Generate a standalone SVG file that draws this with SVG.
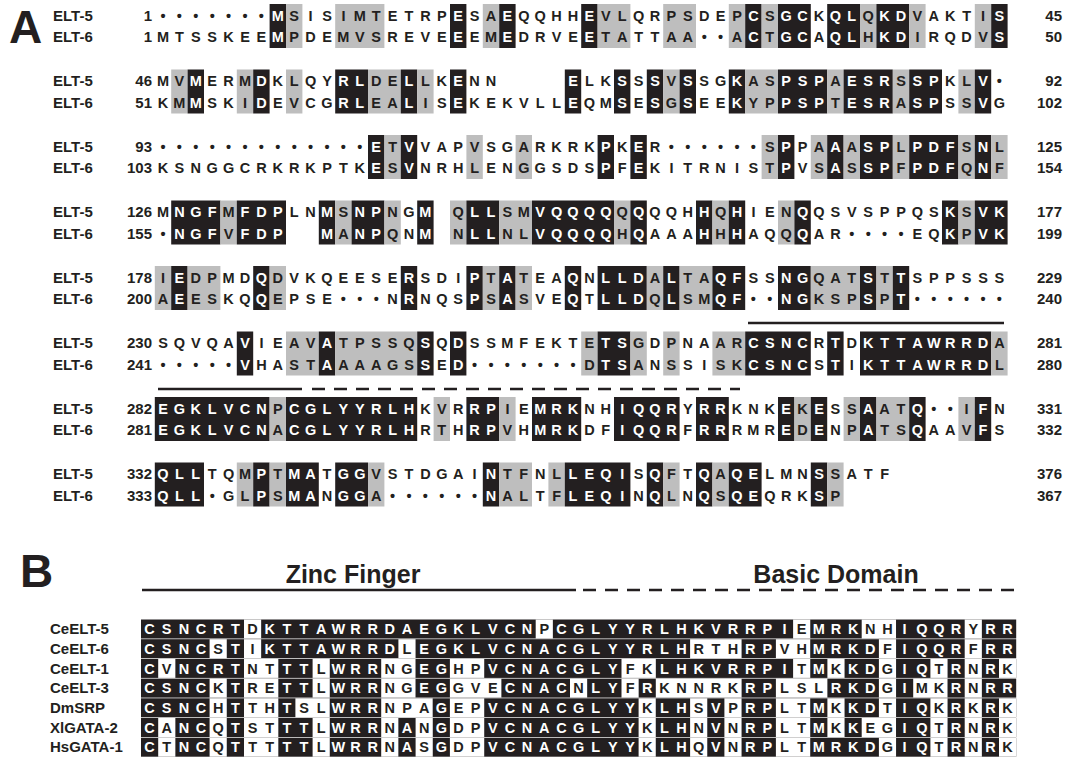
<svg xmlns="http://www.w3.org/2000/svg" width="1086" height="769" viewBox="0 0 1086 769">
<style>
text{font-family:"Liberation Sans",Arial,Helvetica,sans-serif;font-weight:bold;fill:#231f20}
.r{font-size:14.5px;text-anchor:middle}
.w{fill:#fff}
.rb{font-size:14.5px;text-anchor:middle;fill:#fff}
.d{fill:#231f20}
.lb{font-size:15px}
.ne{font-size:15px;text-anchor:end}
.k{fill:#231f20}
.g{fill:#bebebe}
.wb{fill:#fff}
.big{font-size:46px}
.hd{font-size:25px;text-anchor:middle}
.ln{stroke:#231f20;stroke-width:2.4;fill:none}
.dash{stroke:#231f20;stroke-width:2.4;fill:none;stroke-dasharray:13 9}
</style>
<rect width="1086" height="769" fill="#fff"/>
<g id="panelA">
<text class="big" x="9" y="43">A</text>
<g id="a-row1">
<rect class="k" x="269.6" y="4" width="16.4" height="44"/><rect class="g" x="286" y="4" width="16.4" height="44"/><rect class="g" x="335.2" y="4" width="49.2" height="44"/><rect class="k" x="450" y="4" width="16.4" height="44"/><rect class="g" x="482.8" y="4" width="16.4" height="44"/><rect class="k" x="499.2" y="4" width="16.4" height="44"/><rect class="k" x="581.2" y="4" width="16.4" height="44"/><rect class="g" x="597.6" y="4" width="32.8" height="44"/><rect class="g" x="663.2" y="4" width="32.8" height="44"/><rect class="g" x="728.8" y="4" width="16.4" height="44"/><rect class="k" x="745.2" y="4" width="16.4" height="44"/><rect class="g" x="761.6" y="4" width="16.4" height="44"/><rect class="k" x="778" y="4" width="32.8" height="44"/><rect class="k" x="827.2" y="4" width="32.8" height="44"/><rect class="g" x="860" y="4" width="16.4" height="44"/><rect class="k" x="876.4" y="4" width="32.8" height="44"/><rect class="g" x="909.2" y="4" width="16.4" height="44"/><rect class="g" x="974.8" y="4" width="16.4" height="44"/><rect class="k" x="991.2" y="4" width="16.4" height="44"/>
<text class="lb" x="53" y="20.5">ELT-5</text><text class="lb" x="53" y="42">ELT-6</text>
<text class="ne" x="152" y="20.5">1</text><text class="ne" x="152" y="42">1</text>
<text class="ne" x="1062" y="20.5">45</text><text class="ne" x="1062" y="42">50</text>
<text class="r" y="20.5" x="163 179.4 195.8 212.2 228.6 245 261.4 277.8 294.2 310.6 327 343.4 359.8 376.2 392.6 409 425.4 441.8 458.2 474.6 491 507.4 523.8 540.2 556.6 573 589.4 605.8 622.2 638.6 655 671.4 687.8 704.2 720.6 737 753.4 769.8 786.2 802.6 819 835.4 851.8 868.2 884.6 901 917.4 933.8 950.2 966.6 983 999.4">•••••••<tspan class="w">M</tspan>SISIMTETRP<tspan class="w">E</tspan>SA<tspan class="w">E</tspan>QQHH<tspan class="w">E</tspan>VLQRPSDEP<tspan class="w">C</tspan>S<tspan class="w">GC</tspan>K<tspan class="w">QL</tspan>Q<tspan class="w">KD</tspan>VAKTI<tspan class="w">S</tspan></text>
<text class="r" y="42" x="163 179.4 195.8 212.2 228.6 245 261.4 277.8 294.2 310.6 327 343.4 359.8 376.2 392.6 409 425.4 441.8 458.2 474.6 491 507.4 523.8 540.2 556.6 573 589.4 605.8 622.2 638.6 655 671.4 687.8 704.2 720.6 737 753.4 769.8 786.2 802.6 819 835.4 851.8 868.2 884.6 901 917.4 933.8 950.2 966.6 983 999.4">MTSSKEE<tspan class="w">M</tspan>PDEMVSREVE<tspan class="w">E</tspan>EM<tspan class="w">E</tspan>DRVE<tspan class="w">E</tspan>TATTAA••A<tspan class="w">C</tspan>T<tspan class="w">GC</tspan>A<tspan class="w">QL</tspan>H<tspan class="w">KD</tspan>IRQDV<tspan class="w">S</tspan></text>
</g>
<g id="a-row2">
<rect class="g" x="171.2" y="69.5" width="16.4" height="44"/><rect class="k" x="187.6" y="69.5" width="16.4" height="44"/><rect class="g" x="236.8" y="69.5" width="16.4" height="44"/><rect class="k" x="253.2" y="69.5" width="16.4" height="44"/><rect class="g" x="286" y="69.5" width="16.4" height="44"/><rect class="k" x="335.2" y="69.5" width="32.8" height="44"/><rect class="g" x="368" y="69.5" width="32.8" height="44"/><rect class="k" x="400.8" y="69.5" width="16.4" height="44"/><rect class="g" x="417.2" y="69.5" width="16.4" height="44"/><rect class="k" x="450" y="69.5" width="16.4" height="44"/><rect class="k" x="564.8" y="69.5" width="16.4" height="44"/><rect class="k" x="614" y="69.5" width="16.4" height="44"/><rect class="k" x="646.8" y="69.5" width="16.4" height="44"/><rect class="g" x="663.2" y="69.5" width="16.4" height="44"/><rect class="k" x="679.6" y="69.5" width="16.4" height="44"/><rect class="k" x="728.8" y="69.5" width="16.4" height="44"/><rect class="g" x="745.2" y="69.5" width="32.8" height="44"/><rect class="k" x="778" y="69.5" width="49.2" height="44"/><rect class="g" x="827.2" y="69.5" width="16.4" height="44"/><rect class="k" x="843.6" y="69.5" width="49.2" height="44"/><rect class="g" x="892.8" y="69.5" width="16.4" height="44"/><rect class="k" x="909.2" y="69.5" width="32.8" height="44"/><rect class="g" x="958.4" y="69.5" width="16.4" height="44"/><rect class="k" x="974.8" y="69.5" width="16.4" height="44"/>
<text class="lb" x="53" y="86">ELT-5</text><text class="lb" x="53" y="107.5">ELT-6</text>
<text class="ne" x="152" y="86">46</text><text class="ne" x="152" y="107.5">51</text>
<text class="ne" x="1062" y="86">92</text><text class="ne" x="1062" y="107.5">102</text>
<text class="r" y="86" x="163 179.4 195.8 212.2 228.6 245 261.4 277.8 294.2 310.6 327 343.4 359.8 376.2 392.6 409 425.4 441.8 458.2 474.6 491 507.4 523.8 540.2 556.6 573 589.4 605.8 622.2 638.6 655 671.4 687.8 704.2 720.6 737 753.4 769.8 786.2 802.6 819 835.4 851.8 868.2 884.6 901 917.4 933.8 950.2 966.6 983 999.4">MV<tspan class="w">M</tspan>ERM<tspan class="w">D</tspan>KLQY<tspan class="w">RL</tspan>DE<tspan class="w">L</tspan>LK<tspan class="w">E</tspan>NN&#160;&#160;&#160;&#160;<tspan class="w">E</tspan>LK<tspan class="w">S</tspan>S<tspan class="w">S</tspan>V<tspan class="w">S</tspan>SG<tspan class="w">K</tspan>AS<tspan class="w">PSP</tspan>A<tspan class="w">ESR</tspan>S<tspan class="w">SP</tspan>KL<tspan class="w">V</tspan>•</text>
<text class="r" y="107.5" x="163 179.4 195.8 212.2 228.6 245 261.4 277.8 294.2 310.6 327 343.4 359.8 376.2 392.6 409 425.4 441.8 458.2 474.6 491 507.4 523.8 540.2 556.6 573 589.4 605.8 622.2 638.6 655 671.4 687.8 704.2 720.6 737 753.4 769.8 786.2 802.6 819 835.4 851.8 868.2 884.6 901 917.4 933.8 950.2 966.6 983 999.4">KM<tspan class="w">M</tspan>SKI<tspan class="w">D</tspan>EVCG<tspan class="w">RL</tspan>EA<tspan class="w">L</tspan>IS<tspan class="w">E</tspan>KEKVLL<tspan class="w">E</tspan>QM<tspan class="w">S</tspan>E<tspan class="w">S</tspan>G<tspan class="w">S</tspan>EE<tspan class="w">K</tspan>YP<tspan class="w">PSP</tspan>T<tspan class="w">ESR</tspan>A<tspan class="w">SP</tspan>SS<tspan class="w">V</tspan>G</text>
</g>
<g id="a-row3">
<rect class="k" x="368" y="135" width="16.4" height="44"/><rect class="g" x="384.4" y="135" width="16.4" height="44"/><rect class="k" x="400.8" y="135" width="16.4" height="44"/><rect class="g" x="466.4" y="135" width="16.4" height="44"/><rect class="g" x="515.6" y="135" width="16.4" height="44"/><rect class="k" x="597.6" y="135" width="16.4" height="44"/><rect class="k" x="630.4" y="135" width="16.4" height="44"/><rect class="g" x="761.6" y="135" width="16.4" height="44"/><rect class="k" x="778" y="135" width="16.4" height="44"/><rect class="g" x="810.8" y="135" width="16.4" height="44"/><rect class="k" x="827.2" y="135" width="16.4" height="44"/><rect class="g" x="843.6" y="135" width="16.4" height="44"/><rect class="k" x="860" y="135" width="32.8" height="44"/><rect class="g" x="892.8" y="135" width="16.4" height="44"/><rect class="k" x="909.2" y="135" width="49.2" height="44"/><rect class="g" x="958.4" y="135" width="16.4" height="44"/><rect class="k" x="974.8" y="135" width="16.4" height="44"/><rect class="g" x="991.2" y="135" width="16.4" height="44"/>
<text class="lb" x="53" y="151.5">ELT-5</text><text class="lb" x="53" y="173">ELT-6</text>
<text class="ne" x="152" y="151.5">93</text><text class="ne" x="152" y="173">103</text>
<text class="ne" x="1062" y="151.5">125</text><text class="ne" x="1062" y="173">154</text>
<text class="r" y="151.5" x="163 179.4 195.8 212.2 228.6 245 261.4 277.8 294.2 310.6 327 343.4 359.8 376.2 392.6 409 425.4 441.8 458.2 474.6 491 507.4 523.8 540.2 556.6 573 589.4 605.8 622.2 638.6 655 671.4 687.8 704.2 720.6 737 753.4 769.8 786.2 802.6 819 835.4 851.8 868.2 884.6 901 917.4 933.8 950.2 966.6 983 999.4">•••••••••••••<tspan class="w">E</tspan>T<tspan class="w">V</tspan>VAPVSGARKRK<tspan class="w">P</tspan>K<tspan class="w">E</tspan>R••••••S<tspan class="w">P</tspan>PA<tspan class="w">A</tspan>A<tspan class="w">SP</tspan>L<tspan class="w">PDF</tspan>S<tspan class="w">N</tspan>L</text>
<text class="r" y="173" x="163 179.4 195.8 212.2 228.6 245 261.4 277.8 294.2 310.6 327 343.4 359.8 376.2 392.6 409 425.4 441.8 458.2 474.6 491 507.4 523.8 540.2 556.6 573 589.4 605.8 622.2 638.6 655 671.4 687.8 704.2 720.6 737 753.4 769.8 786.2 802.6 819 835.4 851.8 868.2 884.6 901 917.4 933.8 950.2 966.6 983 999.4">KSNGGCRKRKPTK<tspan class="w">E</tspan>S<tspan class="w">V</tspan>NRHLENGGSDS<tspan class="w">P</tspan>F<tspan class="w">E</tspan>KITRNIST<tspan class="w">P</tspan>VS<tspan class="w">A</tspan>S<tspan class="w">SP</tspan>F<tspan class="w">PDF</tspan>Q<tspan class="w">N</tspan>F</text>
</g>
<g id="a-row4">
<rect class="k" x="171.2" y="200.5" width="49.2" height="44"/><rect class="g" x="220.4" y="200.5" width="16.4" height="44"/><rect class="k" x="236.8" y="200.5" width="49.2" height="44"/><rect class="k" x="318.8" y="200.5" width="16.4" height="44"/><rect class="g" x="335.2" y="200.5" width="16.4" height="44"/><rect class="k" x="351.6" y="200.5" width="32.8" height="44"/><rect class="g" x="384.4" y="200.5" width="16.4" height="44"/><rect class="k" x="417.2" y="200.5" width="16.4" height="44"/><rect class="g" x="450" y="200.5" width="16.4" height="44"/><rect class="k" x="466.4" y="200.5" width="32.8" height="44"/><rect class="g" x="499.2" y="200.5" width="32.8" height="44"/><rect class="k" x="532" y="200.5" width="82" height="44"/><rect class="g" x="614" y="200.5" width="16.4" height="44"/><rect class="k" x="630.4" y="200.5" width="16.4" height="44"/><rect class="k" x="696" y="200.5" width="16.4" height="44"/><rect class="g" x="712.4" y="200.5" width="16.4" height="44"/><rect class="k" x="728.8" y="200.5" width="16.4" height="44"/><rect class="g" x="778" y="200.5" width="16.4" height="44"/><rect class="k" x="794.4" y="200.5" width="16.4" height="44"/><rect class="k" x="942" y="200.5" width="16.4" height="44"/><rect class="g" x="958.4" y="200.5" width="16.4" height="44"/><rect class="k" x="974.8" y="200.5" width="32.8" height="44"/>
<text class="lb" x="53" y="217">ELT-5</text><text class="lb" x="53" y="238.5">ELT-6</text>
<text class="ne" x="152" y="217">126</text><text class="ne" x="152" y="238.5">155</text>
<text class="ne" x="1062" y="217">177</text><text class="ne" x="1062" y="238.5">199</text>
<text class="r" y="217" x="163 179.4 195.8 212.2 228.6 245 261.4 277.8 294.2 310.6 327 343.4 359.8 376.2 392.6 409 425.4 441.8 458.2 474.6 491 507.4 523.8 540.2 556.6 573 589.4 605.8 622.2 638.6 655 671.4 687.8 704.2 720.6 737 753.4 769.8 786.2 802.6 819 835.4 851.8 868.2 884.6 901 917.4 933.8 950.2 966.6 983 999.4">M<tspan class="w">NGF</tspan>M<tspan class="w">FDP</tspan>LN<tspan class="w">M</tspan>S<tspan class="w">NP</tspan>NG<tspan class="w">M</tspan>&#160;Q<tspan class="w">LL</tspan>SM<tspan class="w">VQQQQ</tspan>Q<tspan class="w">Q</tspan>QQH<tspan class="w">H</tspan>Q<tspan class="w">H</tspan>IEN<tspan class="w">Q</tspan>QSVSPPQS<tspan class="w">K</tspan>S<tspan class="w">VK</tspan></text>
<text class="r" y="238.5" x="163 179.4 195.8 212.2 228.6 245 261.4 277.8 294.2 310.6 327 343.4 359.8 376.2 392.6 409 425.4 441.8 458.2 474.6 491 507.4 523.8 540.2 556.6 573 589.4 605.8 622.2 638.6 655 671.4 687.8 704.2 720.6 737 753.4 769.8 786.2 802.6 819 835.4 851.8 868.2 884.6 901 917.4 933.8 950.2 966.6 983 999.4">•<tspan class="w">NGF</tspan>V<tspan class="w">FDP</tspan>&#160;&#160;<tspan class="w">M</tspan>A<tspan class="w">NP</tspan>QN<tspan class="w">M</tspan>&#160;N<tspan class="w">LL</tspan>NL<tspan class="w">VQQQQ</tspan>H<tspan class="w">Q</tspan>AAA<tspan class="w">H</tspan>H<tspan class="w">H</tspan>AQQ<tspan class="w">Q</tspan>AR••••EQ<tspan class="w">K</tspan>P<tspan class="w">VK</tspan></text>
</g>
<g id="a-row5">
<rect class="g" x="154.8" y="266" width="16.4" height="44"/><rect class="k" x="171.2" y="266" width="16.4" height="44"/><rect class="g" x="187.6" y="266" width="32.8" height="44"/><rect class="k" x="253.2" y="266" width="16.4" height="44"/><rect class="g" x="269.6" y="266" width="16.4" height="44"/><rect class="k" x="400.8" y="266" width="16.4" height="44"/><rect class="k" x="466.4" y="266" width="16.4" height="44"/><rect class="g" x="482.8" y="266" width="16.4" height="44"/><rect class="k" x="499.2" y="266" width="16.4" height="44"/><rect class="g" x="515.6" y="266" width="16.4" height="44"/><rect class="k" x="564.8" y="266" width="16.4" height="44"/><rect class="k" x="597.6" y="266" width="49.2" height="44"/><rect class="g" x="646.8" y="266" width="16.4" height="44"/><rect class="k" x="663.2" y="266" width="16.4" height="44"/><rect class="g" x="679.6" y="266" width="32.8" height="44"/><rect class="k" x="712.4" y="266" width="32.8" height="44"/><rect class="k" x="778" y="266" width="32.8" height="44"/><rect class="g" x="810.8" y="266" width="49.2" height="44"/><rect class="k" x="860" y="266" width="16.4" height="44"/><rect class="g" x="876.4" y="266" width="16.4" height="44"/><rect class="k" x="892.8" y="266" width="16.4" height="44"/>
<text class="lb" x="53" y="282.5">ELT-5</text><text class="lb" x="53" y="304">ELT-6</text>
<text class="ne" x="152" y="282.5">178</text><text class="ne" x="152" y="304">200</text>
<text class="ne" x="1062" y="282.5">229</text><text class="ne" x="1062" y="304">240</text>
<text class="r" y="282.5" x="163 179.4 195.8 212.2 228.6 245 261.4 277.8 294.2 310.6 327 343.4 359.8 376.2 392.6 409 425.4 441.8 458.2 474.6 491 507.4 523.8 540.2 556.6 573 589.4 605.8 622.2 638.6 655 671.4 687.8 704.2 720.6 737 753.4 769.8 786.2 802.6 819 835.4 851.8 868.2 884.6 901 917.4 933.8 950.2 966.6 983 999.4">I<tspan class="w">E</tspan>DPMD<tspan class="w">Q</tspan>DVKQEESE<tspan class="w">R</tspan>SDI<tspan class="w">P</tspan>T<tspan class="w">A</tspan>TEA<tspan class="w">Q</tspan>N<tspan class="w">LLD</tspan>A<tspan class="w">L</tspan>TA<tspan class="w">QF</tspan>SS<tspan class="w">NG</tspan>QAT<tspan class="w">S</tspan>T<tspan class="w">T</tspan>SPPSSS</text>
<text class="r" y="304" x="163 179.4 195.8 212.2 228.6 245 261.4 277.8 294.2 310.6 327 343.4 359.8 376.2 392.6 409 425.4 441.8 458.2 474.6 491 507.4 523.8 540.2 556.6 573 589.4 605.8 622.2 638.6 655 671.4 687.8 704.2 720.6 737 753.4 769.8 786.2 802.6 819 835.4 851.8 868.2 884.6 901 917.4 933.8 950.2 966.6 983 999.4">A<tspan class="w">E</tspan>ESKQ<tspan class="w">Q</tspan>EPSE•••N<tspan class="w">R</tspan>NQS<tspan class="w">P</tspan>S<tspan class="w">A</tspan>SVE<tspan class="w">Q</tspan>T<tspan class="w">LLD</tspan>Q<tspan class="w">L</tspan>SM<tspan class="w">QF</tspan>••<tspan class="w">NG</tspan>KSP<tspan class="w">S</tspan>P<tspan class="w">T</tspan>••••••</text>
</g>
<g id="a-row6">
<rect class="k" x="236.8" y="331.5" width="16.4" height="44"/><rect class="g" x="286" y="331.5" width="32.8" height="44"/><rect class="k" x="318.8" y="331.5" width="16.4" height="44"/><rect class="g" x="335.2" y="331.5" width="82" height="44"/><rect class="k" x="417.2" y="331.5" width="16.4" height="44"/><rect class="k" x="450" y="331.5" width="16.4" height="44"/><rect class="g" x="581.2" y="331.5" width="16.4" height="44"/><rect class="k" x="597.6" y="331.5" width="32.8" height="44"/><rect class="g" x="630.4" y="331.5" width="16.4" height="44"/><rect class="g" x="663.2" y="331.5" width="16.4" height="44"/><rect class="g" x="712.4" y="331.5" width="32.8" height="44"/><rect class="k" x="745.2" y="331.5" width="65.6" height="44"/><rect class="k" x="827.2" y="331.5" width="16.4" height="44"/><rect class="k" x="860" y="331.5" width="131.2" height="44"/><rect class="g" x="991.2" y="331.5" width="16.4" height="44"/>
<text class="lb" x="53" y="348">ELT-5</text><text class="lb" x="53" y="369.5">ELT-6</text>
<text class="ne" x="152" y="348">230</text><text class="ne" x="152" y="369.5">241</text>
<text class="ne" x="1062" y="348">281</text><text class="ne" x="1062" y="369.5">280</text>
<text class="r" y="348" x="163 179.4 195.8 212.2 228.6 245 261.4 277.8 294.2 310.6 327 343.4 359.8 376.2 392.6 409 425.4 441.8 458.2 474.6 491 507.4 523.8 540.2 556.6 573 589.4 605.8 622.2 638.6 655 671.4 687.8 704.2 720.6 737 753.4 769.8 786.2 802.6 819 835.4 851.8 868.2 884.6 901 917.4 933.8 950.2 966.6 983 999.4">SQVQA<tspan class="w">V</tspan>IEAV<tspan class="w">A</tspan>TPSSQ<tspan class="w">S</tspan>Q<tspan class="w">D</tspan>SSMFEKTE<tspan class="w">TS</tspan>GDPNAAR<tspan class="w">CSNC</tspan>R<tspan class="w">T</tspan>D<tspan class="w">KTTAWRRD</tspan>A</text>
<text class="r" y="369.5" x="163 179.4 195.8 212.2 228.6 245 261.4 277.8 294.2 310.6 327 343.4 359.8 376.2 392.6 409 425.4 441.8 458.2 474.6 491 507.4 523.8 540.2 556.6 573 589.4 605.8 622.2 638.6 655 671.4 687.8 704.2 720.6 737 753.4 769.8 786.2 802.6 819 835.4 851.8 868.2 884.6 901 917.4 933.8 950.2 966.6 983 999.4">•••••<tspan class="w">V</tspan>HAST<tspan class="w">A</tspan>AAAGS<tspan class="w">S</tspan>E<tspan class="w">D</tspan>•••••••D<tspan class="w">TS</tspan>ANSSISK<tspan class="w">CSNC</tspan>S<tspan class="w">T</tspan>I<tspan class="w">KTTAWRRD</tspan>L</text>
</g>
<g id="a-row7">
<rect class="k" x="154.8" y="397" width="114.8" height="44"/><rect class="g" x="269.6" y="397" width="16.4" height="44"/><rect class="k" x="286" y="397" width="131.2" height="44"/><rect class="g" x="433.6" y="397" width="16.4" height="44"/><rect class="k" x="466.4" y="397" width="32.8" height="44"/><rect class="g" x="499.2" y="397" width="16.4" height="44"/><rect class="k" x="532" y="397" width="49.2" height="44"/><rect class="k" x="614" y="397" width="65.6" height="44"/><rect class="k" x="696" y="397" width="32.8" height="44"/><rect class="k" x="778" y="397" width="16.4" height="44"/><rect class="g" x="794.4" y="397" width="16.4" height="44"/><rect class="k" x="810.8" y="397" width="16.4" height="44"/><rect class="g" x="843.6" y="397" width="16.4" height="44"/><rect class="k" x="860" y="397" width="16.4" height="44"/><rect class="g" x="876.4" y="397" width="32.8" height="44"/><rect class="k" x="909.2" y="397" width="16.4" height="44"/><rect class="g" x="958.4" y="397" width="16.4" height="44"/><rect class="k" x="974.8" y="397" width="16.4" height="44"/>
<text class="lb" x="53" y="413.5">ELT-5</text><text class="lb" x="53" y="435">ELT-6</text>
<text class="ne" x="152" y="413.5">282</text><text class="ne" x="152" y="435">281</text>
<text class="ne" x="1062" y="413.5">331</text><text class="ne" x="1062" y="435">332</text>
<text class="r" y="413.5" x="163 179.4 195.8 212.2 228.6 245 261.4 277.8 294.2 310.6 327 343.4 359.8 376.2 392.6 409 425.4 441.8 458.2 474.6 491 507.4 523.8 540.2 556.6 573 589.4 605.8 622.2 638.6 655 671.4 687.8 704.2 720.6 737 753.4 769.8 786.2 802.6 819 835.4 851.8 868.2 884.6 901 917.4 933.8 950.2 966.6 983 999.4"><tspan class="w">EGKLVCN</tspan>P<tspan class="w">CGLYYRLH</tspan>KVR<tspan class="w">RP</tspan>IE<tspan class="w">MRK</tspan>NH<tspan class="w">IQQR</tspan>Y<tspan class="w">RR</tspan>KNK<tspan class="w">E</tspan>K<tspan class="w">E</tspan>SS<tspan class="w">A</tspan>AT<tspan class="w">Q</tspan>••I<tspan class="w">F</tspan>N</text>
<text class="r" y="435" x="163 179.4 195.8 212.2 228.6 245 261.4 277.8 294.2 310.6 327 343.4 359.8 376.2 392.6 409 425.4 441.8 458.2 474.6 491 507.4 523.8 540.2 556.6 573 589.4 605.8 622.2 638.6 655 671.4 687.8 704.2 720.6 737 753.4 769.8 786.2 802.6 819 835.4 851.8 868.2 884.6 901 917.4 933.8 950.2 966.6 983 999.4"><tspan class="w">EGKLVCN</tspan>A<tspan class="w">CGLYYRLH</tspan>RTH<tspan class="w">RP</tspan>VH<tspan class="w">MRK</tspan>DF<tspan class="w">IQQR</tspan>F<tspan class="w">RR</tspan>RMR<tspan class="w">E</tspan>D<tspan class="w">E</tspan>NP<tspan class="w">A</tspan>TS<tspan class="w">Q</tspan>AAV<tspan class="w">F</tspan>S</text>
</g>
<g id="a-row8">
<rect class="k" x="154.8" y="462.5" width="49.2" height="44"/><rect class="g" x="236.8" y="462.5" width="16.4" height="44"/><rect class="k" x="253.2" y="462.5" width="16.4" height="44"/><rect class="g" x="269.6" y="462.5" width="16.4" height="44"/><rect class="k" x="286" y="462.5" width="32.8" height="44"/><rect class="k" x="335.2" y="462.5" width="32.8" height="44"/><rect class="g" x="368" y="462.5" width="16.4" height="44"/><rect class="k" x="482.8" y="462.5" width="16.4" height="44"/><rect class="g" x="499.2" y="462.5" width="32.8" height="44"/><rect class="g" x="548.4" y="462.5" width="16.4" height="44"/><rect class="k" x="564.8" y="462.5" width="65.6" height="44"/><rect class="k" x="646.8" y="462.5" width="16.4" height="44"/><rect class="g" x="663.2" y="462.5" width="16.4" height="44"/><rect class="k" x="696" y="462.5" width="16.4" height="44"/><rect class="g" x="712.4" y="462.5" width="16.4" height="44"/><rect class="k" x="728.8" y="462.5" width="32.8" height="44"/><rect class="k" x="810.8" y="462.5" width="16.4" height="44"/><rect class="g" x="827.2" y="462.5" width="16.4" height="44"/>
<text class="lb" x="53" y="479">ELT-5</text><text class="lb" x="53" y="500.5">ELT-6</text>
<text class="ne" x="152" y="479">332</text><text class="ne" x="152" y="500.5">333</text>
<text class="ne" x="1062" y="479">376</text><text class="ne" x="1062" y="500.5">367</text>
<text class="r" y="479" x="163 179.4 195.8 212.2 228.6 245 261.4 277.8 294.2 310.6 327 343.4 359.8 376.2 392.6 409 425.4 441.8 458.2 474.6 491 507.4 523.8 540.2 556.6 573 589.4 605.8 622.2 638.6 655 671.4 687.8 704.2 720.6 737 753.4 769.8 786.2 802.6 819 835.4 851.8 868.2 884.6 901"><tspan class="w">QLL</tspan>TQM<tspan class="w">P</tspan>T<tspan class="w">MA</tspan>T<tspan class="w">GG</tspan>VSTDGAI<tspan class="w">N</tspan>TFNL<tspan class="w">LEQI</tspan>S<tspan class="w">Q</tspan>FT<tspan class="w">Q</tspan>A<tspan class="w">QE</tspan>LMN<tspan class="w">S</tspan>SATF</text>
<text class="r" y="500.5" x="163 179.4 195.8 212.2 228.6 245 261.4 277.8 294.2 310.6 327 343.4 359.8 376.2 392.6 409 425.4 441.8 458.2 474.6 491 507.4 523.8 540.2 556.6 573 589.4 605.8 622.2 638.6 655 671.4 687.8 704.2 720.6 737 753.4 769.8 786.2 802.6 819 835.4"><tspan class="w">QLL</tspan>•GL<tspan class="w">P</tspan>S<tspan class="w">MA</tspan>N<tspan class="w">GG</tspan>A••••••<tspan class="w">N</tspan>ALTF<tspan class="w">LEQI</tspan>N<tspan class="w">Q</tspan>LN<tspan class="w">Q</tspan>S<tspan class="w">QE</tspan>QRK<tspan class="w">S</tspan>P</text>
</g>
<g id="a-domain-lines">
<line class="ln" x1="748" y1="323" x2="1004" y2="323"/>
<line class="ln" x1="158" y1="389" x2="302" y2="389"/>
<line class="dash" x1="312" y1="389" x2="740" y2="389"/>
</g>
</g>
<g id="panelB">
<text class="big" x="20" y="587">B</text>
<text class="hd" x="353" y="583">Zinc Finger</text>
<text class="hd" x="836" y="583">Basic Domain</text>
<g id="b-domain-lines">
<line class="ln" x1="142" y1="590" x2="576" y2="590"/>
<line class="dash" x1="583" y1="590" x2="1016" y2="590"/>
</g>
<g id="b-CeELT-5">
<rect class="k" x="141" y="619.5" width="875.2" height="19"/>
<rect class="wb" x="244" y="619.5" width="17.16" height="19"/><rect class="wb" x="535.7" y="619.5" width="17.16" height="19"/><rect class="wb" x="793.1" y="619.5" width="17.16" height="19"/><rect class="wb" x="861.7" y="619.5" width="34.32" height="19"/><rect class="wb" x="964.7" y="619.5" width="17.16" height="19"/>
<text class="lb" x="50" y="634.2">CeELT-5</text>
<text class="rb" y="634.2" x="149.6 166.7 183.9 201.1 218.2 235.4 252.6 269.7 286.9 304 321.2 338.4 355.5 372.7 389.8 407 424.2 441.3 458.5 475.6 492.8 510 527.1 544.3 561.4 578.6 595.8 612.9 630.1 647.2 664.4 681.6 698.7 715.9 733 750.2 767.4 784.5 801.7 818.8 836 853.2 870.3 887.5 904.6 921.8 939 956.1 973.3 990.4 1007.6">CSNCRT<tspan class="d">D</tspan>KTTAWRRDAEGKLVCN<tspan class="d">P</tspan>CGLYYRLHKVRRPI<tspan class="d">E</tspan>MRK<tspan class="d">NH</tspan>IQQR<tspan class="d">Y</tspan>RR</text>
</g>
<g id="b-CeELT-6">
<rect class="k" x="141" y="639.2" width="875.2" height="19"/>
<rect class="wb" x="209.6" y="639.2" width="17.16" height="19"/><rect class="wb" x="244" y="639.2" width="17.16" height="19"/><rect class="wb" x="398.4" y="639.2" width="17.16" height="19"/><rect class="wb" x="690.1" y="639.2" width="51.48" height="19"/><rect class="wb" x="775.9" y="639.2" width="34.32" height="19"/><rect class="wb" x="878.9" y="639.2" width="17.16" height="19"/><rect class="wb" x="964.7" y="639.2" width="17.16" height="19"/>
<text class="lb" x="50" y="653.9">CeELT-6</text>
<text class="rb" y="653.9" x="149.6 166.7 183.9 201.1 218.2 235.4 252.6 269.7 286.9 304 321.2 338.4 355.5 372.7 389.8 407 424.2 441.3 458.5 475.6 492.8 510 527.1 544.3 561.4 578.6 595.8 612.9 630.1 647.2 664.4 681.6 698.7 715.9 733 750.2 767.4 784.5 801.7 818.8 836 853.2 870.3 887.5 904.6 921.8 939 956.1 973.3 990.4 1007.6">CSNC<tspan class="d">S</tspan>T<tspan class="d">I</tspan>KTTAWRRD<tspan class="d">L</tspan>EGKLVCNACGLYYRLH<tspan class="d">RTH</tspan>RP<tspan class="d">VH</tspan>MRKD<tspan class="d">F</tspan>IQQR<tspan class="d">F</tspan>RR</text>
</g>
<g id="b-CeELT-1">
<rect class="k" x="141" y="658.9" width="875.2" height="19"/>
<rect class="wb" x="158.2" y="658.9" width="17.16" height="19"/><rect class="wb" x="244" y="658.9" width="34.32" height="19"/><rect class="wb" x="312.6" y="658.9" width="17.16" height="19"/><rect class="wb" x="381.2" y="658.9" width="34.32" height="19"/><rect class="wb" x="449.9" y="658.9" width="34.32" height="19"/><rect class="wb" x="621.5" y="658.9" width="34.32" height="19"/><rect class="wb" x="793.1" y="658.9" width="17.16" height="19"/><rect class="wb" x="827.4" y="658.9" width="17.16" height="19"/><rect class="wb" x="878.9" y="658.9" width="17.16" height="19"/><rect class="wb" x="930.4" y="658.9" width="17.16" height="19"/><rect class="wb" x="964.7" y="658.9" width="17.16" height="19"/><rect class="wb" x="999" y="658.9" width="17.16" height="19"/>
<text class="lb" x="50" y="673.6">CeELT-1</text>
<text class="rb" y="673.6" x="149.6 166.7 183.9 201.1 218.2 235.4 252.6 269.7 286.9 304 321.2 338.4 355.5 372.7 389.8 407 424.2 441.3 458.5 475.6 492.8 510 527.1 544.3 561.4 578.6 595.8 612.9 630.1 647.2 664.4 681.6 698.7 715.9 733 750.2 767.4 784.5 801.7 818.8 836 853.2 870.3 887.5 904.6 921.8 939 956.1 973.3 990.4 1007.6">C<tspan class="d">V</tspan>NCRT<tspan class="d">NT</tspan>TT<tspan class="d">L</tspan>WRR<tspan class="d">NG</tspan>EG<tspan class="d">HP</tspan>VCNACGLY<tspan class="d">FK</tspan>LHKVRRPI<tspan class="d">T</tspan>M<tspan class="d">K</tspan>KD<tspan class="d">G</tspan>IQ<tspan class="d">T</tspan>R<tspan class="d">N</tspan>R<tspan class="d">K</tspan></text>
</g>
<g id="b-CeELT-3">
<rect class="k" x="141" y="678.6" width="875.2" height="19"/>
<rect class="wb" x="209.6" y="678.6" width="17.16" height="19"/><rect class="wb" x="244" y="678.6" width="34.32" height="19"/><rect class="wb" x="312.6" y="678.6" width="17.16" height="19"/><rect class="wb" x="381.2" y="678.6" width="34.32" height="19"/><rect class="wb" x="449.9" y="678.6" width="51.48" height="19"/><rect class="wb" x="570" y="678.6" width="17.16" height="19"/><rect class="wb" x="621.5" y="678.6" width="17.16" height="19"/><rect class="wb" x="655.8" y="678.6" width="85.8" height="19"/><rect class="wb" x="775.9" y="678.6" width="51.48" height="19"/><rect class="wb" x="878.9" y="678.6" width="17.16" height="19"/><rect class="wb" x="913.2" y="678.6" width="34.32" height="19"/><rect class="wb" x="964.7" y="678.6" width="17.16" height="19"/>
<text class="lb" x="50" y="693.3">CeELT-3</text>
<text class="rb" y="693.3" x="149.6 166.7 183.9 201.1 218.2 235.4 252.6 269.7 286.9 304 321.2 338.4 355.5 372.7 389.8 407 424.2 441.3 458.5 475.6 492.8 510 527.1 544.3 561.4 578.6 595.8 612.9 630.1 647.2 664.4 681.6 698.7 715.9 733 750.2 767.4 784.5 801.7 818.8 836 853.2 870.3 887.5 904.6 921.8 939 956.1 973.3 990.4 1007.6">CSNC<tspan class="d">K</tspan>T<tspan class="d">RE</tspan>TT<tspan class="d">L</tspan>WRR<tspan class="d">NG</tspan>EG<tspan class="d">GVE</tspan>CNAC<tspan class="d">N</tspan>LY<tspan class="d">F</tspan>R<tspan class="d">KNNRK</tspan>RP<tspan class="d">LSL</tspan>RKD<tspan class="d">G</tspan>I<tspan class="d">MK</tspan>R<tspan class="d">N</tspan>RR</text>
</g>
<g id="b-DmSRP">
<rect class="k" x="141" y="698.3" width="875.2" height="19"/>
<rect class="wb" x="209.6" y="698.3" width="17.16" height="19"/><rect class="wb" x="244" y="698.3" width="34.32" height="19"/><rect class="wb" x="295.4" y="698.3" width="34.32" height="19"/><rect class="wb" x="381.2" y="698.3" width="51.48" height="19"/><rect class="wb" x="449.9" y="698.3" width="34.32" height="19"/><rect class="wb" x="638.6" y="698.3" width="17.16" height="19"/><rect class="wb" x="690.1" y="698.3" width="17.16" height="19"/><rect class="wb" x="724.4" y="698.3" width="17.16" height="19"/><rect class="wb" x="775.9" y="698.3" width="34.32" height="19"/><rect class="wb" x="827.4" y="698.3" width="17.16" height="19"/><rect class="wb" x="878.9" y="698.3" width="17.16" height="19"/><rect class="wb" x="930.4" y="698.3" width="17.16" height="19"/><rect class="wb" x="964.7" y="698.3" width="17.16" height="19"/><rect class="wb" x="999" y="698.3" width="17.16" height="19"/>
<text class="lb" x="50" y="713">DmSRP</text>
<text class="rb" y="713" x="149.6 166.7 183.9 201.1 218.2 235.4 252.6 269.7 286.9 304 321.2 338.4 355.5 372.7 389.8 407 424.2 441.3 458.5 475.6 492.8 510 527.1 544.3 561.4 578.6 595.8 612.9 630.1 647.2 664.4 681.6 698.7 715.9 733 750.2 767.4 784.5 801.7 818.8 836 853.2 870.3 887.5 904.6 921.8 939 956.1 973.3 990.4 1007.6">CSNC<tspan class="d">H</tspan>T<tspan class="d">TH</tspan>T<tspan class="d">SL</tspan>WRR<tspan class="d">NPA</tspan>G<tspan class="d">EP</tspan>VCNACGLYY<tspan class="d">K</tspan>LH<tspan class="d">S</tspan>V<tspan class="d">P</tspan>RP<tspan class="d">LT</tspan>M<tspan class="d">K</tspan>KD<tspan class="d">T</tspan>IQ<tspan class="d">K</tspan>R<tspan class="d">K</tspan>R<tspan class="d">K</tspan></text>
</g>
<g id="b-XlGATA-2">
<rect class="k" x="141" y="718" width="875.2" height="19"/>
<rect class="wb" x="158.2" y="718" width="17.16" height="19"/><rect class="wb" x="209.6" y="718" width="17.16" height="19"/><rect class="wb" x="244" y="718" width="34.32" height="19"/><rect class="wb" x="312.6" y="718" width="17.16" height="19"/><rect class="wb" x="381.2" y="718" width="17.16" height="19"/><rect class="wb" x="415.6" y="718" width="17.16" height="19"/><rect class="wb" x="449.9" y="718" width="34.32" height="19"/><rect class="wb" x="638.6" y="718" width="17.16" height="19"/><rect class="wb" x="690.1" y="718" width="17.16" height="19"/><rect class="wb" x="724.4" y="718" width="17.16" height="19"/><rect class="wb" x="775.9" y="718" width="34.32" height="19"/><rect class="wb" x="827.4" y="718" width="17.16" height="19"/><rect class="wb" x="861.7" y="718" width="34.32" height="19"/><rect class="wb" x="930.4" y="718" width="17.16" height="19"/><rect class="wb" x="964.7" y="718" width="17.16" height="19"/><rect class="wb" x="999" y="718" width="17.16" height="19"/>
<text class="lb" x="50" y="732.7">XlGATA-2</text>
<text class="rb" y="732.7" x="149.6 166.7 183.9 201.1 218.2 235.4 252.6 269.7 286.9 304 321.2 338.4 355.5 372.7 389.8 407 424.2 441.3 458.5 475.6 492.8 510 527.1 544.3 561.4 578.6 595.8 612.9 630.1 647.2 664.4 681.6 698.7 715.9 733 750.2 767.4 784.5 801.7 818.8 836 853.2 870.3 887.5 904.6 921.8 939 956.1 973.3 990.4 1007.6">C<tspan class="d">A</tspan>NC<tspan class="d">Q</tspan>T<tspan class="d">ST</tspan>TT<tspan class="d">L</tspan>WRR<tspan class="d">N</tspan>A<tspan class="d">N</tspan>G<tspan class="d">DP</tspan>VCNACGLYY<tspan class="d">K</tspan>LH<tspan class="d">N</tspan>V<tspan class="d">N</tspan>RP<tspan class="d">LT</tspan>M<tspan class="d">K</tspan>K<tspan class="d">EG</tspan>IQ<tspan class="d">T</tspan>R<tspan class="d">N</tspan>R<tspan class="d">K</tspan></text>
</g>
<g id="b-HsGATA-1">
<rect class="k" x="141" y="737.7" width="875.2" height="19"/>
<rect class="wb" x="158.2" y="737.7" width="17.16" height="19"/><rect class="wb" x="209.6" y="737.7" width="17.16" height="19"/><rect class="wb" x="244" y="737.7" width="34.32" height="19"/><rect class="wb" x="312.6" y="737.7" width="17.16" height="19"/><rect class="wb" x="381.2" y="737.7" width="17.16" height="19"/><rect class="wb" x="415.6" y="737.7" width="17.16" height="19"/><rect class="wb" x="449.9" y="737.7" width="34.32" height="19"/><rect class="wb" x="638.6" y="737.7" width="17.16" height="19"/><rect class="wb" x="690.1" y="737.7" width="17.16" height="19"/><rect class="wb" x="724.4" y="737.7" width="17.16" height="19"/><rect class="wb" x="775.9" y="737.7" width="34.32" height="19"/><rect class="wb" x="878.9" y="737.7" width="17.16" height="19"/><rect class="wb" x="930.4" y="737.7" width="17.16" height="19"/><rect class="wb" x="964.7" y="737.7" width="17.16" height="19"/><rect class="wb" x="999" y="737.7" width="17.16" height="19"/>
<text class="lb" x="50" y="752.4">HsGATA-1</text>
<text class="rb" y="752.4" x="149.6 166.7 183.9 201.1 218.2 235.4 252.6 269.7 286.9 304 321.2 338.4 355.5 372.7 389.8 407 424.2 441.3 458.5 475.6 492.8 510 527.1 544.3 561.4 578.6 595.8 612.9 630.1 647.2 664.4 681.6 698.7 715.9 733 750.2 767.4 784.5 801.7 818.8 836 853.2 870.3 887.5 904.6 921.8 939 956.1 973.3 990.4 1007.6">C<tspan class="d">T</tspan>NC<tspan class="d">Q</tspan>T<tspan class="d">TT</tspan>TT<tspan class="d">L</tspan>WRR<tspan class="d">N</tspan>A<tspan class="d">S</tspan>G<tspan class="d">DP</tspan>VCNACGLYY<tspan class="d">K</tspan>LH<tspan class="d">Q</tspan>V<tspan class="d">N</tspan>RP<tspan class="d">LT</tspan>MRKD<tspan class="d">G</tspan>IQ<tspan class="d">T</tspan>R<tspan class="d">N</tspan>R<tspan class="d">K</tspan></text>
</g>
</g>
</svg>
